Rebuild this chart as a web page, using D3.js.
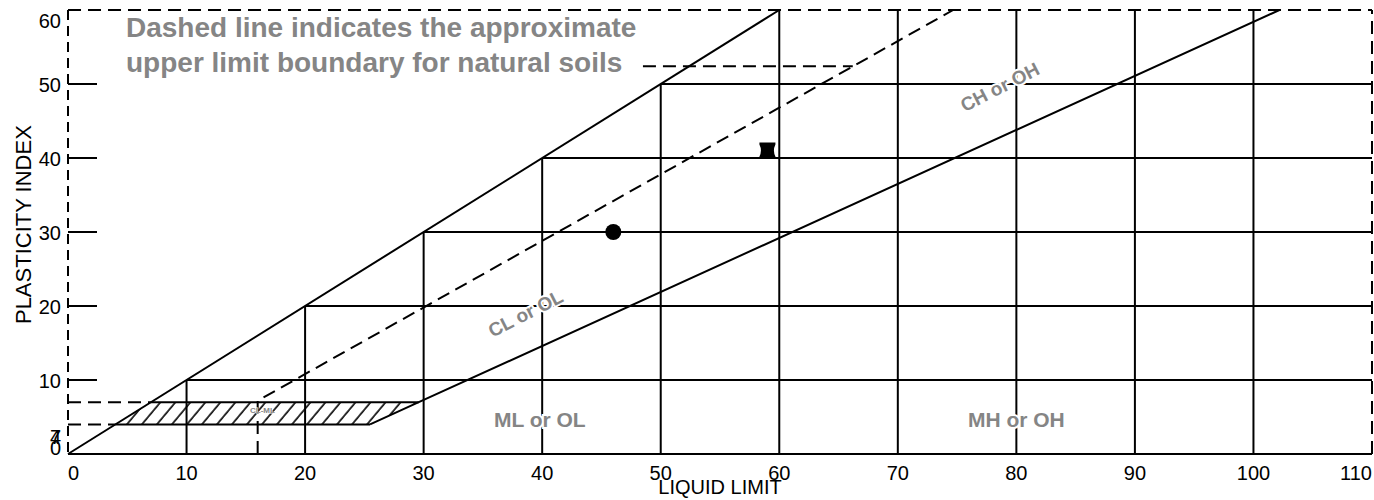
<!DOCTYPE html>
<html>
  <head>
    <title>Plasticity chart</title>
    <script src="https://d3js.org/d3.v7.min.js"></script>
    <style>
      body { margin: 0; background: #fff; }
      svg text { font-family: "Liberation Sans", Arial, sans-serif; }
      .grid { stroke: #000; stroke-width: 2; fill: none; }
      .dash { stroke: #000; stroke-width: 2; fill: none; stroke-dasharray: 13,7; }
      .zone { fill: #858585; font-weight: bold; stroke: #fff; stroke-width: 4; paint-order: stroke; }
    </style>
  </head>
  <body>
    <svg width="1374" height="500"></svg>
    <script>
      // axis ticks
      const xTicks = [0, 10, 20, 30, 40, 50, 60, 70, 80, 90, 100, 110];
      const yTicks = [0, 10, 20, 30, 40, 50, 60];
      const extraYLabels = ["4", "7"];

      // chart lines, [liquid limit, plasticity index]
      const upperLine = [[0, 0], [60, 60]];
      const aLine = [[25.48, 4], [29.59, 7], [102.19, 60]];
      const uLine = [[16, 0], [16, 7.2], [74.67, 60]];
      const clMlZone = [[4, 4], [25.48, 4], [29.59, 7], [7, 7]];
      const hatchLimits = [4, 7];

      // samples
      const samples = [
        { ll: 46, pi: 30, shape: "circle" },
        { ll: 59, pi: 41, shape: "spool" }
      ];

      const zoneNames = ["CL or OL", "CH or OH", "ML or OL", "MH or OH", "CL-ML"];
      const noteLines = ["Dashed line indicates the approximate", "upper limit boundary for natural soils"];

      const svg = d3.select("svg");

      const x = d3.scaleLinear().domain([0, 110]).range([68, 1372]);
      const y = d3.scaleLinear().domain([0, 60]).range([454, 10]);
      const line = d3.line().x(d => x(d[0])).y(d => y(d[1]));

      // hatch pattern
      const defs = svg.append("defs");
      defs.append("pattern")
          .attr("id", "hatch")
          .attr("patternUnits", "userSpaceOnUse")
          .attr("width", 11.5)
          .attr("height", 11.5)
          .attr("patternTransform", "rotate(40)")
        .append("line")
          .attr("x1", 2).attr("y1", 0)
          .attr("x2", 2).attr("y2", 11.5)
          .attr("stroke", "#000")
          .attr("stroke-width", 1.6);

      svg.append("path")
          .datum(clMlZone.concat([clMlZone[0]]))
          .attr("d", line)
          .attr("fill", "url(#hatch)")
          .attr("stroke", "none");

      // horizontal grid lines start on the PI = LL line
      svg.selectAll(".hgrid")
          .data(yTicks.filter(v => v > 0 && v < 60))
          .enter().append("line")
          .attr("class", "grid")
          .attr("x1", d => x(d)).attr("x2", x(110))
          .attr("y1", d => y(d)).attr("y2", d => y(d));

      // vertical grid lines end on the PI = LL line
      svg.selectAll(".vgrid")
          .data(xTicks.filter(v => v > 0 && v < 110))
          .enter().append("line")
          .attr("class", "grid")
          .attr("x1", d => x(d)).attr("x2", d => x(d))
          .attr("y1", y(0)).attr("y2", d => y(Math.min(d, 60)));

      // hatch zone top/bottom
      svg.selectAll(".hatchEdge")
          .data(hatchLimits)
          .enter().append("line")
          .attr("class", "grid")
          .attr("x1", (d, i) => x(clMlZone[i === 0 ? 0 : 3][0]))
          .attr("x2", (d, i) => x(clMlZone[i === 0 ? 1 : 2][0]))
          .attr("y1", d => y(d)).attr("y2", d => y(d));

      // dashed to axis at 4 and 7
      svg.selectAll(".hatchDash")
          .data(hatchLimits)
          .enter().append("line")
          .attr("class", "dash")
          .attr("x1", x(0)).attr("x2", d => x(d))
          .attr("y1", d => y(d)).attr("y2", d => y(d));

      // frame
      svg.append("line").attr("class", "grid")
          .attr("x1", x(0)).attr("x2", x(110)).attr("y1", y(0)).attr("y2", y(0));
      svg.append("line").attr("class", "dash")
          .attr("x1", x(0)).attr("x2", x(110)).attr("y1", y(60)).attr("y2", y(60));
      svg.append("line").attr("class", "dash")
          .attr("x1", x(110)).attr("x2", x(110)).attr("y1", y(0)).attr("y2", y(60));
      svg.append("line").attr("class", "dash")
          .attr("x1", x(0)).attr("x2", x(0)).attr("y1", y(60)).attr("y2", y(0))
          .style("stroke-dasharray", "10,6");

      // y ticks (inside)
      svg.selectAll(".ytick")
          .data(yTicks.filter(v => v > 0 && v < 60))
          .enter().append("line")
          .attr("class", "grid")
          .attr("x1", x(0)).attr("x2", x(0) + 29)
          .attr("y1", d => y(d)).attr("y2", d => y(d));

      // boundary lines
      svg.append("path").datum(upperLine).attr("class", "grid").attr("d", line);
      svg.append("path").datum(aLine).attr("class", "grid").attr("d", line);
      svg.append("path").datum(uLine).attr("class", "dash").attr("d", line);

      // leader from note to U-line
      svg.append("line").attr("class", "dash")
          .attr("x1", x(48.5)).attr("x2", x(66.2))
          .attr("y1", y(52.4)).attr("y2", y(52.4));

      // tick labels
      svg.selectAll(".xlab")
          .data(xTicks)
          .enter().append("text")
          .attr("x", d => x(d))
          .attr("y", 480)
          .attr("text-anchor", (d, i) => i === 0 ? "start" : (i === xTicks.length - 1 ? "end" : "middle"))
          .style("font-size", "20px")
          .text(d => d);

      const yLabelPos = v => Math.max(20, Math.min(447, y(v)));
      svg.selectAll(".ylab")
          .data(yTicks)
          .enter().append("text")
          .attr("x", 61)
          .attr("y", d => yLabelPos(d) + 1)
          .attr("dy", "0.35em")
          .attr("text-anchor", "end")
          .style("font-size", "20px")
          .text(d => d);

      svg.selectAll(".ylabExtra")
          .data(extraYLabels)
          .enter().append("text")
          .attr("x", 61)
          .attr("y", y(2.3))
          .attr("dy", "0.35em")
          .attr("text-anchor", "end")
          .style("font-size", "20px")
          .text(d => d);

      // axis titles
      svg.append("text")
          .attr("x", (x(0) + x(110)) / 2)
          .attr("y", 494)
          .attr("text-anchor", "middle")
          .style("font-size", "20px")
          .text("LIQUID LIMIT");

      svg.append("text")
          .attr("transform", `translate(31,${y(31)}) rotate(-90)`)
          .attr("text-anchor", "middle")
          .style("font-size", "22px")
          .text("PLASTICITY INDEX");

      // note
      svg.selectAll(".note")
          .data(noteLines)
          .enter().append("text")
          .attr("x", 126)
          .attr("y", (d, i) => 37 + i * 35)
          .attr("fill", "#858585")
          .style("font-weight", "bold")
          .style("font-size", "28px")
          .text(d => d);

      // zone labels: [ll, pi, angle, size]
      const zonePos = [[38.6, 19.0, -27, 19], [78.6, 49.6, -27, 19], [39.8, 3.65, 0, 21], [80, 3.65, 0, 21], [16.4, 5.5, 0, 8]];
      svg.selectAll(".zone")
          .data(zoneNames)
          .enter().append("text")
          .attr("class", "zone")
          .attr("text-anchor", "middle")
          .attr("transform", (d, i) => `translate(${x(zonePos[i][0])},${y(zonePos[i][1])}) rotate(${zonePos[i][2]})`)
          .attr("dy", (d, i) => zonePos[i][2] ? "0.35em" : 0)
          .style("font-size", (d, i) => zonePos[i][3] + "px")
          .style("stroke-width", (d, i) => i === 4 ? 1 : 4)
          .text(d => d);

      // samples
      const spool = "M-8,-8H8V-6Q5,0 8,6V8H-8V6Q-5,0 -8,-6Z";
      samples.forEach(s => {
        if (s.shape === "circle") {
          svg.append("circle")
              .attr("cx", x(s.ll)).attr("cy", y(s.pi)).attr("r", 8)
              .attr("fill", "#000");
        } else {
          svg.append("path")
              .attr("d", spool)
              .attr("transform", `translate(${x(s.ll)},${y(s.pi)})`)
              .attr("fill", "#000");
        }
      });
    </script>
  </body>
</html>
